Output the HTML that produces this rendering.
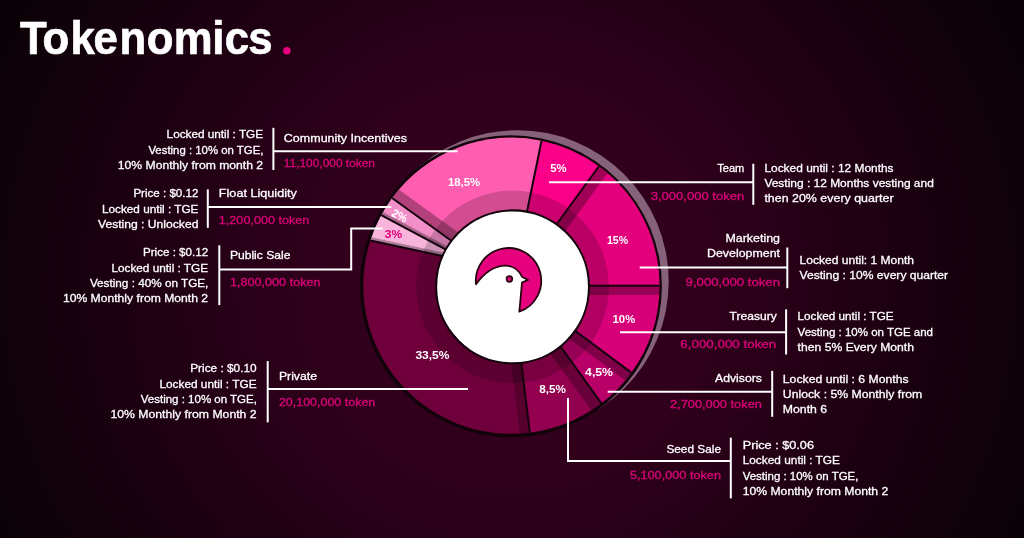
<!DOCTYPE html>
<html><head><meta charset="utf-8"><title>Tokenomics</title>
<style>
html,body{margin:0;padding:0;background:#1a0713;}
body{width:1024px;height:538px;overflow:hidden;position:relative;font-family:"Liberation Sans",sans-serif;}
#bg{position:absolute;left:0;top:0;width:1024px;height:538px;
 background:
  radial-gradient(ellipse 580px 570px at 510px 285px, #37001f 0%, #2f001b 35%, #1d0012 65%, #090206 100%);}
svg{position:absolute;left:0;top:0;will-change:transform;}
svg text{font-family:"Liberation Sans",sans-serif;}
.tx text{stroke-width:0.3px;paint-order:stroke;}
</style></head><body>
<div id="bg"></div>
<svg width="1024" height="538" viewBox="0 0 1024 538">
<defs><clipPath id="w1"><path d="M598.92 166.23 A148.1 148.1 0 0 1 659.50 285.70 L566.80 285.70 L544.21 241.26 Z"/></clipPath><clipPath id="w2"><path d="M659.50 285.70 A148.1 148.1 0 0 1 631.28 372.66 L556.61 317.02 L566.80 285.70 Z"/></clipPath><clipPath id="w3"><path d="M631.28 372.66 A148.1 148.1 0 0 1 601.41 403.31 L546.94 327.67 L556.61 317.02 Z"/></clipPath><clipPath id="w4"><path d="M601.41 403.31 A148.1 148.1 0 0 1 529.84 432.65 L518.50 340.29 L546.94 327.67 Z"/></clipPath><clipPath id="w5"><path d="M529.84 432.65 A148.1 148.1 0 0 1 370.34 240.57 L462.60 260.34 L518.50 340.29 Z"/></clipPath><clipPath id="w6"><path d="M370.34 240.57 A148.1 148.1 0 0 1 381.18 215.15 L463.40 258.84 L462.60 260.34 Z"/></clipPath><clipPath id="w7"><path d="M381.18 215.15 A148.1 148.1 0 0 1 392.09 197.96 L467.58 252.47 L463.40 258.84 Z"/></clipPath><clipPath id="w8"><path d="M392.09 197.96 A148.1 148.1 0 0 1 541.56 140.70 L522.86 231.82 L467.58 252.47 Z"/></clipPath></defs>
<!-- title -->
<text transform="scale(0.94 1)" x="21.24 45.14 74.88 99.36 127.23 156.0 184.73 225.74 239.09 264.04" y="54.3" font-size="46.5" font-weight="bold" fill="#fff" stroke="#fff" stroke-width="0.7">Tokenomics</text>
<circle cx="286.9" cy="50.8" r="3.8" fill="#e6007e"/>
<!-- grey offset ring -->
<circle cx="517.5" cy="281.4" r="151.2" fill="#85617a"/>
<!-- donut -->
<circle cx="510.9" cy="286.3" r="151" fill="#12020a"/>
<path d="M541.56 140.70 A148.1 148.1 0 0 1 598.92 166.23 L544.21 241.26 L522.86 231.82 Z" fill="#fb0088"/><path d="M598.92 166.23 A148.1 148.1 0 0 1 659.50 285.70 L566.80 285.70 L544.21 241.26 Z" fill="#e4007c"/><path d="M659.50 285.70 A148.1 148.1 0 0 1 631.28 372.66 L556.61 317.02 L566.80 285.70 Z" fill="#d80078"/><path d="M631.28 372.66 A148.1 148.1 0 0 1 601.41 403.31 L546.94 327.67 L556.61 317.02 Z" fill="#b80068"/><path d="M601.41 403.31 A148.1 148.1 0 0 1 529.84 432.65 L518.50 340.29 L546.94 327.67 Z" fill="#93004f"/><path d="M529.84 432.65 A148.1 148.1 0 0 1 370.34 240.57 L462.60 260.34 L518.50 340.29 Z" fill="#70003c"/><path d="M370.34 240.57 A148.1 148.1 0 0 1 381.18 215.15 L463.40 258.84 L462.60 260.34 Z" fill="#f9b4dc"/><path d="M381.18 215.15 A148.1 148.1 0 0 1 392.09 197.96 L467.58 252.47 L463.40 258.84 Z" fill="#f38fc8"/><path d="M392.09 197.96 A148.1 148.1 0 0 1 541.56 140.70 L522.86 231.82 L467.58 252.47 Z" fill="#ff5eb0"/>
<line x1="598.92" y1="166.23" x2="544.21" y2="241.26" stroke="#000" stroke-opacity="0.3" stroke-width="22.0" clip-path="url(#w1)"/><line x1="659.50" y1="285.70" x2="566.80" y2="285.70" stroke="#000" stroke-opacity="0.3" stroke-width="18.8" clip-path="url(#w2)"/><line x1="631.28" y1="372.66" x2="556.61" y2="317.02" stroke="#000" stroke-opacity="0.3" stroke-width="19.6" clip-path="url(#w3)"/><line x1="601.41" y1="403.31" x2="546.94" y2="327.67" stroke="#000" stroke-opacity="0.28" stroke-width="25.0" clip-path="url(#w4)"/><line x1="529.84" y1="432.65" x2="518.50" y2="340.29" stroke="#000" stroke-opacity="0.22" stroke-width="20.0" clip-path="url(#w5)"/><line x1="370.34" y1="240.57" x2="462.60" y2="260.34" stroke="#000" stroke-opacity="0.3" stroke-width="7.0" clip-path="url(#w6)"/><line x1="381.18" y1="215.15" x2="463.40" y2="258.84" stroke="#000" stroke-opacity="0.3" stroke-width="7.0" clip-path="url(#w7)"/><line x1="392.09" y1="197.96" x2="467.58" y2="252.47" stroke="#000" stroke-opacity="0.3" stroke-width="21.6" clip-path="url(#w8)"/>
<path d="M416.24999999999994 286.85 a96.3 96.3 0 1 0 192.6 0 a96.3 96.3 0 1 0 -192.6 0Z" fill="#000" fill-opacity="0.18"/>
<g stroke="#14020c" stroke-width="2.0" stroke-linecap="butt"><line x1="541.56" y1="140.70" x2="522.86" y2="231.82"/><line x1="598.92" y1="166.23" x2="544.21" y2="241.26"/><line x1="659.50" y1="285.70" x2="566.80" y2="285.70"/><line x1="631.28" y1="372.66" x2="556.61" y2="317.02"/><line x1="601.41" y1="403.31" x2="546.94" y2="327.67"/><line x1="529.84" y1="432.65" x2="518.50" y2="340.29"/><line x1="370.34" y1="240.57" x2="462.60" y2="260.34"/><line x1="381.18" y1="215.15" x2="463.40" y2="258.84"/><line x1="392.09" y1="197.96" x2="467.58" y2="252.47"/></g>
<circle cx="512.55" cy="286.85" r="76.45" fill="#fff" stroke="#14020c" stroke-width="2.1"/>
<!-- bird -->
<path d="M476.0 284.2 A32.7 32.7 0 1 1 519.3 311.6 C520.3 303 521 293 522 282.6 L528.0 279.9 L522.2 277 C519 270 512.5 265.8 505.7 265.7 C494 265.6 483.5 274 476.0 284.2 Z" fill="#e6007e" stroke="#26000f" stroke-width="1.8" stroke-linejoin="round"/>
<circle cx="509.4" cy="279.0" r="2.8" fill="#e6007e" stroke="#26000f" stroke-width="1.8"/>
<!-- connectors -->
<g fill="none" stroke="#fff" stroke-width="2"><polyline points="273.4,127.8 273.4,170.0"/><polyline points="273.4,151.3 457.5,151.3"/><polyline points="207.8,189.4 207.8,227.8"/><polyline points="207.8,206.9 391.3,206.9"/><polyline points="219.3,245.3 219.3,305.1"/><polyline points="219.3,269.6 351.2,269.6 351.2,228.4 382.6,228.4"/><polyline points="267.7,361.1 267.7,422.4"/><polyline points="267.7,389.0 468.1,389.0"/><polyline points="753.3,163.8 753.3,204.8"/><polyline points="549.0,182.2 753.3,182.2"/><polyline points="787.3,247.5 787.3,288.2"/><polyline points="639.7,267.6 787.3,267.6"/><polyline points="786.1,309.4 786.1,354.5"/><polyline points="620.0,332.3 786.1,332.3"/><polyline points="772.2,370.9 772.2,416.8"/><polyline points="607.7,391.8 772.2,391.8"/><polyline points="730.8,437.7 730.8,498.4"/><polyline points="568.0,397.9 568.0,461.1 730.8,461.1"/></g>
<!-- labels -->
<g class="tx"><text x="166.6" y="138.1" textLength="96.5" lengthAdjust="spacingAndGlyphs" fill="#ffffff" stroke="#ffffff" font-weight="normal" font-size="11.5">Locked until : TGE</text><text x="148.4" y="153.6" textLength="115.0" lengthAdjust="spacingAndGlyphs" fill="#ffffff" stroke="#ffffff" font-weight="normal" font-size="11.5">Vesting : 10% on TGE,</text><text x="117.8" y="169.0" textLength="145.3" lengthAdjust="spacingAndGlyphs" fill="#ffffff" stroke="#ffffff" font-weight="normal" font-size="11.5">10% Monthly from month 2</text><text x="283.8" y="141.9" textLength="123.1" lengthAdjust="spacingAndGlyphs" fill="#ffffff" stroke="#ffffff" font-weight="normal" font-size="11.5">Community Incentives</text><text x="283.8" y="166.7" textLength="91.2" lengthAdjust="spacingAndGlyphs" fill="#dc007a" stroke="#dc007a" font-weight="normal" font-size="11.5">11,100,000 token</text><text x="133.4" y="196.9" textLength="65.0" lengthAdjust="spacingAndGlyphs" fill="#ffffff" stroke="#ffffff" font-weight="normal" font-size="11.5">Price : $0.12</text><text x="102.0" y="212.7" textLength="96.4" lengthAdjust="spacingAndGlyphs" fill="#ffffff" stroke="#ffffff" font-weight="normal" font-size="11.5">Locked until : TGE</text><text x="98.0" y="227.7" textLength="100.4" lengthAdjust="spacingAndGlyphs" fill="#ffffff" stroke="#ffffff" font-weight="normal" font-size="11.5">Vesting : Unlocked</text><text x="218.8" y="197.2" textLength="78.1" lengthAdjust="spacingAndGlyphs" fill="#ffffff" stroke="#ffffff" font-weight="normal" font-size="11.5">Float Liquidity</text><text x="218.8" y="224.3" textLength="90.6" lengthAdjust="spacingAndGlyphs" fill="#dc007a" stroke="#dc007a" font-weight="normal" font-size="11.5">1,200,000 token</text><text x="143.0" y="256.4" textLength="65.1" lengthAdjust="spacingAndGlyphs" fill="#ffffff" stroke="#ffffff" font-weight="normal" font-size="11.5">Price : $0.12</text><text x="111.4" y="271.7" textLength="96.7" lengthAdjust="spacingAndGlyphs" fill="#ffffff" stroke="#ffffff" font-weight="normal" font-size="11.5">Locked until : TGE</text><text x="89.9" y="286.5" textLength="118.5" lengthAdjust="spacingAndGlyphs" fill="#ffffff" stroke="#ffffff" font-weight="normal" font-size="11.5">Vesting : 40% on TGE,</text><text x="62.9" y="302.3" textLength="145.2" lengthAdjust="spacingAndGlyphs" fill="#ffffff" stroke="#ffffff" font-weight="normal" font-size="11.5">10% Monthly from Month 2</text><text x="229.9" y="259.2" textLength="60.5" lengthAdjust="spacingAndGlyphs" fill="#ffffff" stroke="#ffffff" font-weight="normal" font-size="11.5">Public Sale</text><text x="229.9" y="286.1" textLength="90.7" lengthAdjust="spacingAndGlyphs" fill="#dc007a" stroke="#dc007a" font-weight="normal" font-size="11.5">1,800,000 token</text><text x="190.2" y="371.5" textLength="66.4" lengthAdjust="spacingAndGlyphs" fill="#ffffff" stroke="#ffffff" font-weight="normal" font-size="11.5">Price : $0.10</text><text x="159.4" y="387.8" textLength="97.2" lengthAdjust="spacingAndGlyphs" fill="#ffffff" stroke="#ffffff" font-weight="normal" font-size="11.5">Locked until : TGE</text><text x="140.8" y="402.7" textLength="116.1" lengthAdjust="spacingAndGlyphs" fill="#ffffff" stroke="#ffffff" font-weight="normal" font-size="11.5">Vesting : 10% on TGE,</text><text x="110.4" y="418.0" textLength="146.2" lengthAdjust="spacingAndGlyphs" fill="#ffffff" stroke="#ffffff" font-weight="normal" font-size="11.5">10% Monthly from Month 2</text><text x="278.9" y="380.4" textLength="38.1" lengthAdjust="spacingAndGlyphs" fill="#ffffff" stroke="#ffffff" font-weight="normal" font-size="11.5">Private</text><text x="278.9" y="406.4" textLength="96.4" lengthAdjust="spacingAndGlyphs" fill="#dc007a" stroke="#dc007a" font-weight="normal" font-size="11.5">20,100,000 token</text><text x="717.2" y="172.0" textLength="27.1" lengthAdjust="spacingAndGlyphs" fill="#ffffff" stroke="#ffffff" font-weight="normal" font-size="11.5">Team</text><text x="650.7" y="199.9" textLength="93.6" lengthAdjust="spacingAndGlyphs" fill="#dc007a" stroke="#dc007a" font-weight="normal" font-size="11.5">3,000,000 token</text><text x="764.4" y="172.0" textLength="129.2" lengthAdjust="spacingAndGlyphs" fill="#ffffff" stroke="#ffffff" font-weight="normal" font-size="11.5">Locked until : 12 Months</text><text x="764.4" y="187.2" textLength="169.4" lengthAdjust="spacingAndGlyphs" fill="#ffffff" stroke="#ffffff" font-weight="normal" font-size="11.5">Vesting : 12 Months vesting and</text><text x="764.4" y="201.5" textLength="129.2" lengthAdjust="spacingAndGlyphs" fill="#ffffff" stroke="#ffffff" font-weight="normal" font-size="11.5">then 20% every quarter</text><text x="725.4" y="242.2" textLength="54.6" lengthAdjust="spacingAndGlyphs" fill="#ffffff" stroke="#ffffff" font-weight="normal" font-size="11.5">Marketing</text><text x="707.0" y="257.0" textLength="73.0" lengthAdjust="spacingAndGlyphs" fill="#ffffff" stroke="#ffffff" font-weight="normal" font-size="11.5">Development</text><text x="685.6" y="285.6" textLength="94.4" lengthAdjust="spacingAndGlyphs" fill="#dc007a" stroke="#dc007a" font-weight="normal" font-size="11.5">9,000,000 token</text><text x="799.6" y="263.6" textLength="114.4" lengthAdjust="spacingAndGlyphs" fill="#ffffff" stroke="#ffffff" font-weight="normal" font-size="11.5">Locked until: 1 Month</text><text x="799.6" y="278.8" textLength="148.5" lengthAdjust="spacingAndGlyphs" fill="#ffffff" stroke="#ffffff" font-weight="normal" font-size="11.5">Vesting : 10% every quarter</text><text x="729.5" y="319.6" textLength="47.2" lengthAdjust="spacingAndGlyphs" fill="#ffffff" stroke="#ffffff" font-weight="normal" font-size="11.5">Treasury</text><text x="680.3" y="348.3" textLength="95.9" lengthAdjust="spacingAndGlyphs" fill="#dc007a" stroke="#dc007a" font-weight="normal" font-size="11.5">6,000,000 token</text><text x="797.6" y="319.6" textLength="96.0" lengthAdjust="spacingAndGlyphs" fill="#ffffff" stroke="#ffffff" font-weight="normal" font-size="11.5">Locked until : TGE</text><text x="797.6" y="336.0" textLength="135.4" lengthAdjust="spacingAndGlyphs" fill="#ffffff" stroke="#ffffff" font-weight="normal" font-size="11.5">Vesting : 10% on TGE and</text><text x="797.6" y="351.2" textLength="116.4" lengthAdjust="spacingAndGlyphs" fill="#ffffff" stroke="#ffffff" font-weight="normal" font-size="11.5">then 5% Every Month</text><text x="715.1" y="382.4" textLength="46.8" lengthAdjust="spacingAndGlyphs" fill="#ffffff" stroke="#ffffff" font-weight="normal" font-size="11.5">Advisors</text><text x="670.0" y="407.8" textLength="91.9" lengthAdjust="spacingAndGlyphs" fill="#dc007a" stroke="#dc007a" font-weight="normal" font-size="11.5">2,700,000 token</text><text x="782.8" y="382.9" textLength="125.9" lengthAdjust="spacingAndGlyphs" fill="#ffffff" stroke="#ffffff" font-weight="normal" font-size="11.5">Locked until : 6 Months</text><text x="782.8" y="398.2" textLength="139.5" lengthAdjust="spacingAndGlyphs" fill="#ffffff" stroke="#ffffff" font-weight="normal" font-size="11.5">Unlock : 5% Monthly from</text><text x="782.8" y="413.4" textLength="44.3" lengthAdjust="spacingAndGlyphs" fill="#ffffff" stroke="#ffffff" font-weight="normal" font-size="11.5">Month 6</text><text x="666.4" y="453.3" textLength="54.6" lengthAdjust="spacingAndGlyphs" fill="#ffffff" stroke="#ffffff" font-weight="normal" font-size="11.5">Seed Sale</text><text x="629.9" y="478.7" textLength="91.1" lengthAdjust="spacingAndGlyphs" fill="#dc007a" stroke="#dc007a" font-weight="normal" font-size="11.5">5,100,000 token</text><text x="742.7" y="448.8" textLength="71.3" lengthAdjust="spacingAndGlyphs" fill="#ffffff" stroke="#ffffff" font-weight="normal" font-size="11.5">Price : $0.06</text><text x="742.7" y="464.0" textLength="97.3" lengthAdjust="spacingAndGlyphs" fill="#ffffff" stroke="#ffffff" font-weight="normal" font-size="11.5">Locked until : TGE</text><text x="742.7" y="479.5" textLength="115.7" lengthAdjust="spacingAndGlyphs" fill="#ffffff" stroke="#ffffff" font-weight="normal" font-size="11.5">Vesting : 10% on TGE,</text><text x="742.7" y="494.7" textLength="145.6" lengthAdjust="spacingAndGlyphs" fill="#ffffff" stroke="#ffffff" font-weight="normal" font-size="11.5">10% Monthly from Month 2</text><text x="447.9" y="186.3" textLength="32.2" lengthAdjust="spacingAndGlyphs" fill="#ffffff" stroke="none" font-weight="bold" font-size="11.8">18,5%</text><text x="550.3" y="171.6" textLength="16.4" lengthAdjust="spacingAndGlyphs" fill="#ffffff" stroke="none" font-weight="bold" font-size="11.8">5%</text><text x="606.9" y="243.8" textLength="21.3" lengthAdjust="spacingAndGlyphs" fill="#ffffff" stroke="none" font-weight="bold" font-size="11.8">15%</text><text x="612.6" y="322.5" textLength="22.6" lengthAdjust="spacingAndGlyphs" fill="#ffffff" stroke="none" font-weight="bold" font-size="11.8">10%</text><text x="585.1" y="375.8" textLength="27.9" lengthAdjust="spacingAndGlyphs" fill="#ffffff" stroke="none" font-weight="bold" font-size="11.8">4,5%</text><text x="539.3" y="392.6" textLength="26.7" lengthAdjust="spacingAndGlyphs" fill="#ffffff" stroke="none" font-weight="bold" font-size="11.8">8,5%</text><text x="415.4" y="359.3" textLength="34.1" lengthAdjust="spacingAndGlyphs" fill="#ffffff" stroke="none" font-weight="bold" font-size="11.8">33,5%</text><text x="384.7" y="237.8" textLength="17.4" lengthAdjust="spacingAndGlyphs" fill="#dc007a" stroke="none" font-weight="bold" font-size="11.8">3%</text></g>
<text x="399.8" y="219.8" text-anchor="middle" textLength="16" lengthAdjust="spacingAndGlyphs" transform="rotate(27 399.8 215.6)" fill="#fff" font-weight="bold" font-size="11.8">2%</text>
</svg>
</body></html>
